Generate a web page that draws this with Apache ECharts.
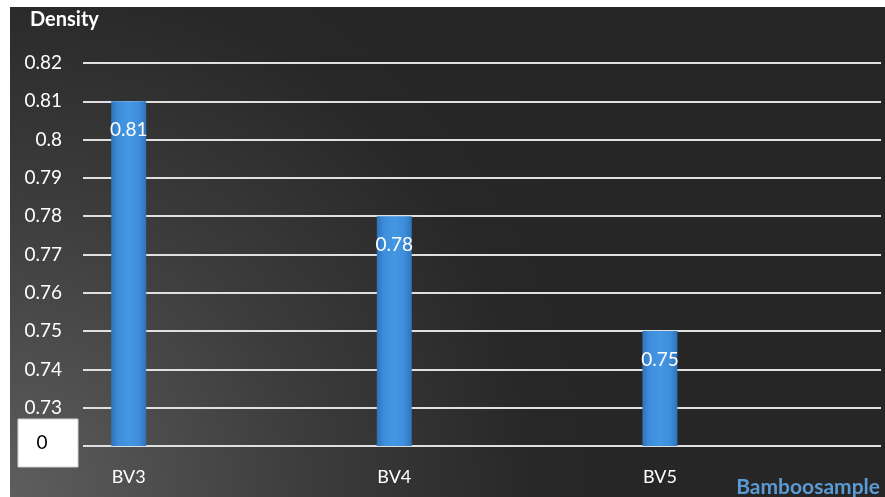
<!DOCTYPE html>
<html>
<head>
<meta charset="utf-8">
<script src="https://cdn.jsdelivr.net/npm/echarts@6/dist/echarts.min.js"></script>
<style>
html,body{margin:0;padding:0;background:#fff;overflow:hidden;}
#c{position:absolute;left:-20px;top:0;width:905px;height:497px;}
</style>
</head>
<body>
<div id="c"></div>
<script>
var categories = ['BV3', 'BV4', 'BV5'];
var densityValues = [0.81, 0.78, 0.75];
var yMin = 0.72, yMax = 0.82, yStep = 0.01;
var yTitle = 'Density';
var watermark = 'Bamboosample';
var brokenAxisLabel = '0';

var FONT = 'Lato, "Noto Sans", sans-serif';
var OX = 20; // container is shifted 20px left of the page
var chart = echarts.init(document.getElementById('c'));

var barColor = {
  type: 'linear', x: 0, y: 0, x2: 1, y2: 0,
  colorStops: [
    {offset: 0, color: '#2f73b9'},
    {offset: 0.2, color: '#3d8ddb'},
    {offset: 0.5, color: '#4497e3'},
    {offset: 0.8, color: '#3d8ddb'},
    {offset: 1, color: '#2f73b9'}
  ]
};

chart.setOption({
  animation: false,
  backgroundColor: '#ffffff',
  graphic: [
    {
      type: 'rect', z: -10, silent: true,
      shape: {x: 10 + OX, y: 7, width: 875, height: 490},
      style: {
        fill: {
          type: 'radial', x: 0, y: 1, r: 1.35,
          colorStops: [
            {offset: 0, color: '#5e5e5e'},
            {offset: 0.45, color: '#3c3c3c'},
            {offset: 0.8, color: '#272727'},
            {offset: 1, color: '#262626'}
          ]
        }
      }
    },
    {
      type: 'text', left: 30 + OX, top: 10,
      style: {text: yTitle, fill: '#ffffff', font: 'bold 20px ' + FONT}
    },
    {
      type: 'rect', z: 10,
      shape: {x: 18 + OX, y: 419, width: 60, height: 48},
      style: {fill: '#ffffff', stroke: '#d0d0d0', lineWidth: 1}
    },
    {
      type: 'text', z: 11, x: 42 + OX, y: 443,
      style: {text: brokenAxisLabel, fill: '#000000', font: '19px ' + FONT, textAlign: 'center', textVerticalAlign: 'middle'}
    },
    {
      type: 'text', z: 11, x: 880 + OX, y: 487,
      style: {text: watermark, fill: '#5b9bd5', font: 'bold 21px ' + FONT, textAlign: 'right', textVerticalAlign: 'middle'}
    }
  ],
  grid: [
    {left: 83 + OX, right: 4, top: 63, bottom: 51},
    {left: -4.1 + OX, width: 796.8, top: 63, bottom: 51}
  ],
  xAxis: [
    {gridIndex: 0, type: 'category', data: categories, show: false},
    {
      gridIndex: 1, type: 'category', data: categories,
      axisLine: {show: false}, axisTick: {show: false},
      axisLabel: {color: '#ffffff', fontSize: 18, fontFamily: FONT, margin: 22}
    }
  ],
  yAxis: [
    {
      gridIndex: 0, type: 'value', min: yMin, max: yMax, interval: yStep,
      axisLine: {show: false}, axisTick: {show: false},
      splitLine: {lineStyle: {color: '#e0e0e0', width: 2}},
      axisLabel: {
        color: '#ffffff', fontSize: 19, fontFamily: FONT, margin: 21,
        formatter: function (v) {
          if (Math.abs(v - yMin) < 1e-9) return '';
          return String(parseFloat(v.toFixed(2)));
        }
      }
    },
    {gridIndex: 1, type: 'value', min: yMin, max: yMax, interval: yStep, show: false}
  ],
  series: [{
    type: 'bar', xAxisIndex: 1, yAxisIndex: 1,
    data: densityValues, barWidth: 35,
    itemStyle: {color: barColor},
    label: {
      show: true, position: 'insideTop', distance: 19,
      color: '#ffffff', fontSize: 19, fontFamily: FONT,
      formatter: function (p) { return String(p.value); }
    }
  }]
});
</script>
</body>
</html>
